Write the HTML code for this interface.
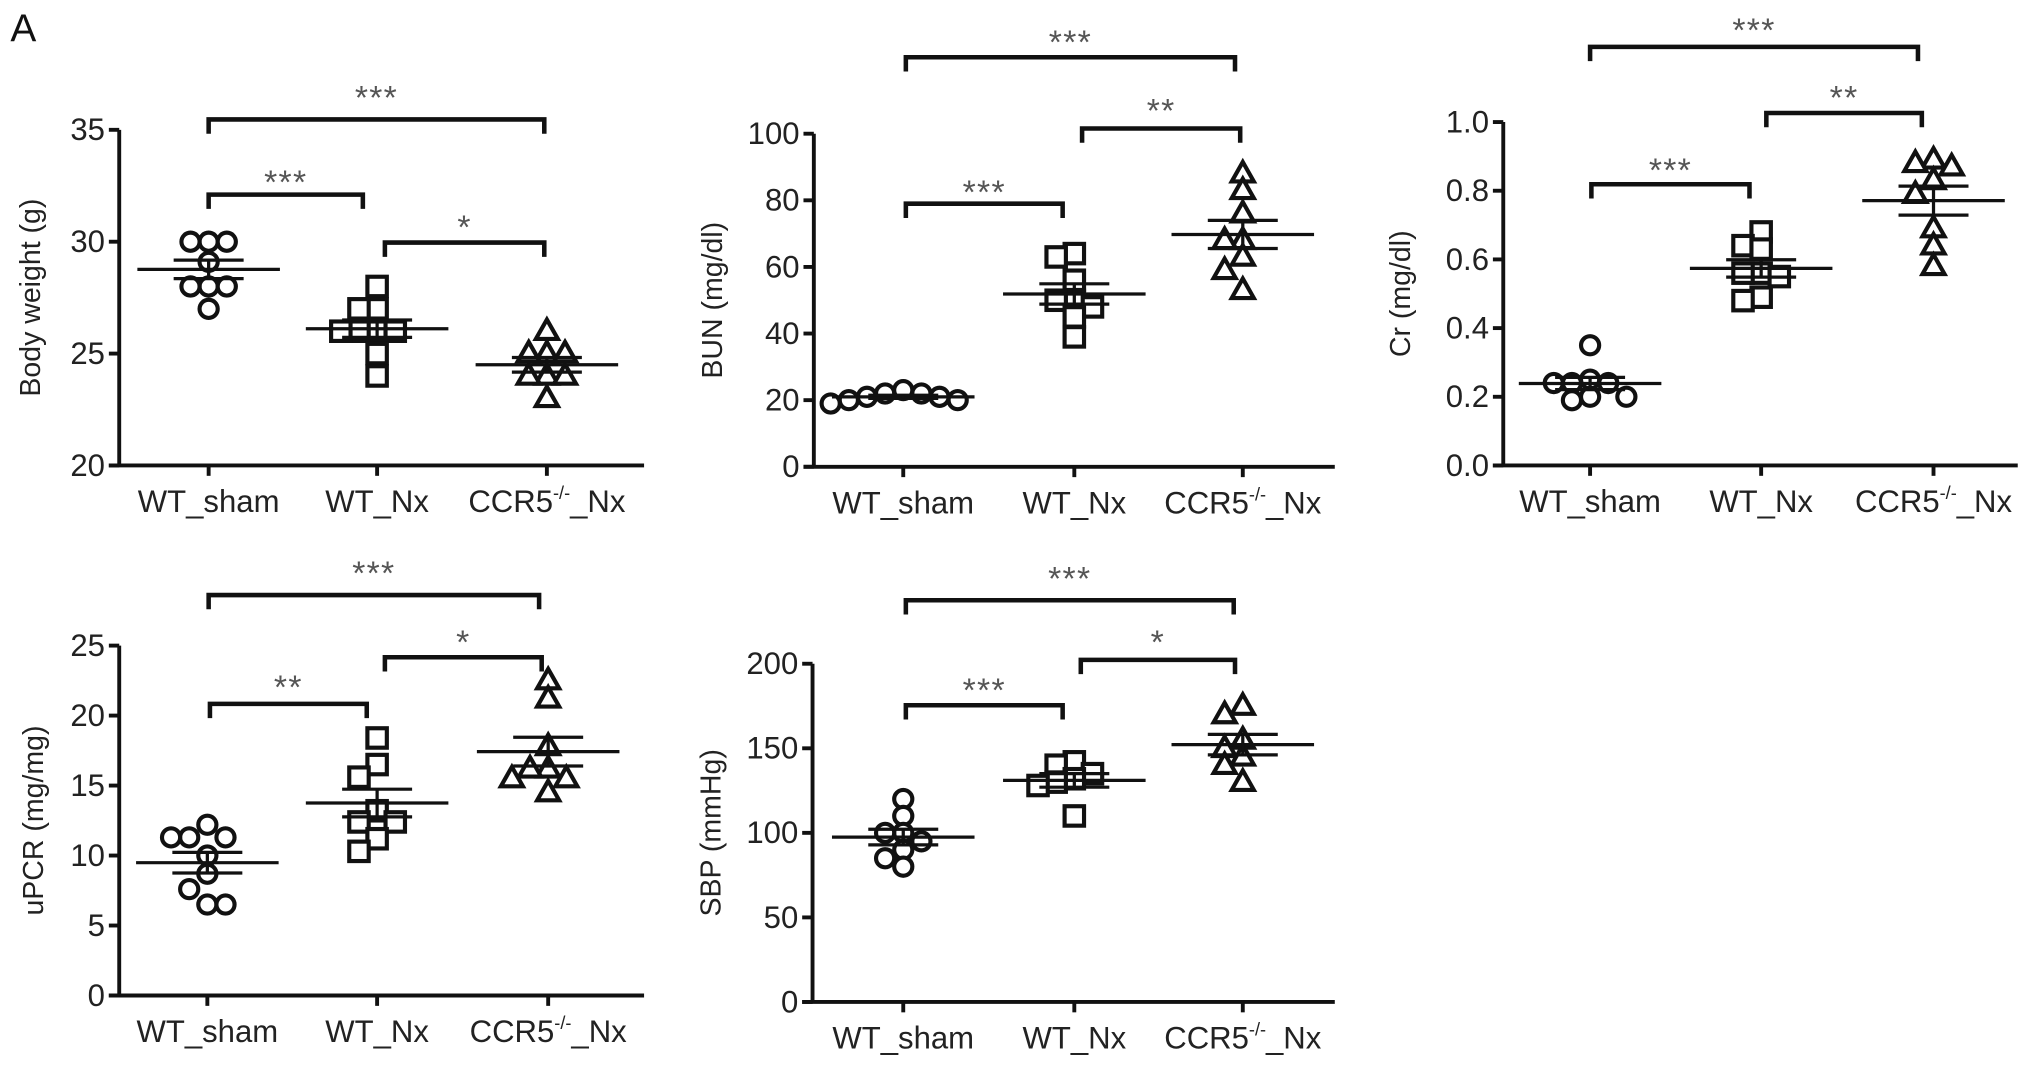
<!DOCTYPE html>
<html><head><meta charset="utf-8">
<style>
html,body{margin:0;padding:0;background:#fff;}
svg{display:block;}
text{font-family:"Liberation Sans",Arial,sans-serif;}
</style></head>
<body>
<svg id="fig" width="2032" height="1067" viewBox="0 0 1568 823" xmlns="http://www.w3.org/2000/svg">
<text x="8" y="32" font-size="30" fill="#111">A</text>
</svg>
<script>
const categories = ["WT_sham","WT_Nx","CCR5-/-_Nx"];
const bwSham = [30,30,30,28,28,28,27,29.1];
const bwNx = [28,27,27,26,26,26,26,25,24];
const bwKo = [26,25,25,25,24,24,24,23];
const bunSham = [23,22,22,21,20,20,19,21];
const bunNx = [64,63,56,50,50,48,45,39];
const bunKo = [88,83,76,68,68,63,59,53];
const crSham = [0.35,0.25,0.24,0.24,0.2,0.19,0.2,0.24];
const crNx = [0.68,0.64,0.63,0.56,0.56,0.55,0.48,0.49];
const crKo = [0.89,0.88,0.87,0.83,0.79,0.69,0.64,0.58];
const upcrSham = [12.2,11.3,11.3,11.3,10,8.7,7.6,6.5,6.5];
const upcrNx = [18.4,16.5,15.6,13.2,12.4,12.4,11.2,10.3];
const upcrKo = [22.5,21.2,17.8,16.2,16.2,15.5,15.5,14.5];
const sbpSham = [120,110,100,100,95,90,85,80];
const sbpNx = [142,140,135,132,130,128,110];
const sbpKo = [175,170,155,150,140,130,145];
const bwTicks = [20,25,30,35];
const bunTicks = [0,20,40,60,80,100];
const crTicks = ["0.0","0.2","0.4","0.6","0.8","1.0"];
const upcrTicks = [0,5,10,15,20,25];
const sbpTicks = [0,50,100,150,200];

const svg = document.getElementById('fig');
const NS = "http://www.w3.org/2000/svg";
function mk(tag, attrs, parent){
  const e = document.createElementNS(NS, tag);
  for (const k in attrs) e.setAttribute(k, attrs[k]);
  (parent||svg).appendChild(e);
  return e;
}

const panels = [
  {name:"body-weight", title:"Body weight (g)", tx:31, ax:92, top:100, bot:359, right:497, xs:[161,291,422], min:20, max:35, ticks:bwTicks, groups:[bwSham,bwNx,bwKo],
   br:[[161,420,92,70,"***"],[161,280,150,135,"***"],[297,420,187,170,"*"]]},
  {name:"bun", title:"BUN (mg/dl)", tx:557, ax:628, top:103, bot:360, right:1030, xs:[697,829,959], min:0, max:100, ticks:bunTicks, groups:[bunSham,bunNx,bunKo],
   br:[[699,953,44,27,"***"],[835,957,99,80,"**"],[699,820,157,143,"***"]]},
  {name:"creatinine", title:"Cr (mg/dl)", tx:1088, ax:1160, top:94, bot:359, right:1557, xs:[1227,1359,1492], min:0, max:1, ticks:crTicks, groups:[crSham,crNx,crKo],
   br:[[1227,1480,36,18,"***"],[1363,1483,87,70,"**"],[1228,1350,142,126,"***"]]},
  {name:"upcr", title:"uPCR (mg/mg)", tx:33, ax:92, top:498, bot:768, right:497, xs:[160,291,423], min:0, max:25, ticks:upcrTicks, groups:[upcrSham,upcrNx,upcrKo],
   br:[[161,416,459,437,"***"],[297,418,507,490,"*"],[162,283,543,525,"**"]]},
  {name:"sbp", title:"SBP (mmHg)", tx:556, ax:627, top:512, bot:773, right:1030, xs:[697,829,959], min:0, max:200, ticks:sbpTicks, groups:[sbpSham,sbpNx,sbpKo],
   br:[[699,952,463,441,"***"],[834,953,509,490,"*"],[699,820,544,527,"***"]]}
];

function marker(g, shape, x, y){
  let e;
  if (shape===0) e = mk('circle',{cx:x,cy:y,r:7,fill:"#fff",stroke:"#111","stroke-width":3.2},g);
  else if (shape===1) e = mk('rect',{x:x-7.5,y:y-7.5,width:15,height:15,fill:"#fff",stroke:"#111","stroke-width":3.2},g);
  else e = mk('polygon',{points:`${x},${y-9} ${x+8.5},${y+6} ${x-8.5},${y+6}`,fill:"#fff",stroke:"#111","stroke-width":3.2,"stroke-linejoin":"miter"},g);
  return e;
}

panels.forEach(p=>{
  const g = mk('g',{});
  
  
  const nums = p.ticks.map(Number);
  const yS = v => p.bot - (v - p.min)/(p.max - p.min)*(p.bot - p.top);
  const ya = mk('line',{x1:p.ax,y1:p.top,x2:p.ax,y2:p.bot,stroke:"#111","stroke-width":3},g);
  
  
  const xa = mk('line',{x1:p.ax-8,y1:p.bot,x2:p.right,y2:p.bot,stroke:"#111","stroke-width":3},g);
  
  
  p.ticks.forEach((t,i)=>{
    const y = yS(nums[i]);
    mk('line',{x1:p.ax-8,y1:y,x2:p.ax,y2:y,stroke:"#111","stroke-width":3},g);
    const tx = mk('text',{x:p.ax-11,y:y+8,"font-size":24,"text-anchor":"end",fill:"#222"},g);
    tx.textContent = String(t);
    
    
  });
  const tt = mk('text',{x:0,y:0,"font-size":22,"text-anchor":"middle",fill:"#222",transform:`translate(${p.tx},${(p.top+p.bot)/2}) rotate(-90)`},g);
  tt.textContent = p.title;
  
  
  categories.forEach((c,i)=>{
    const x = p.xs[i];
    mk('line',{x1:x,y1:p.bot,x2:x,y2:p.bot+8,stroke:"#111","stroke-width":3},g);
    const tx = mk('text',{x:x,y:p.bot+36,"font-size":24,"text-anchor":"middle",fill:"#222"},g);
    if (i===2){
      tx.innerHTML = 'CCR5<tspan font-size="14" dy="-10">-/-</tspan><tspan dy="10">_Nx</tspan>';
    } else tx.textContent = c;
    
    
  });
  p.groups.forEach((vals,gi)=>{
    const cx = p.xs[gi];
    const placed = [];
    const order = vals.map((v,i)=>i).sort((a,b)=>vals[b]-vals[a]);
    order.forEach(i=>{
      const y = yS(vals[i]);
      const cands=[0,-14,14,-28,28,-42,42,-56,56];
      let off=0;
      for (const o of cands){
        if (placed.every(q=>Math.hypot(q[0]-o,q[1]-y)>=12)){off=o;break;}
      }
      placed.push([off,y]);
      const m = marker(g, gi, cx+off, y);
      
      
    });
    const n = vals.length;
    const mean = vals.reduce((a,b)=>a+b,0)/n;
    const sd = Math.sqrt(vals.reduce((a,b)=>a+(b-mean)*(b-mean),0)/(n-1));
    const sem = sd/Math.sqrt(n);
    const ml = mk('line',{x1:cx-55,y1:yS(mean),x2:cx+55,y2:yS(mean),stroke:"#111","stroke-width":2.5},g);
    
    
    [mean+sem, mean-sem].forEach(v=>{
      const el = mk('line',{x1:cx-27,y1:yS(v),x2:cx+27,y2:yS(v),stroke:"#111","stroke-width":2.5},g);
      
      
    });
    const ev = mk('line',{x1:cx,y1:yS(mean+sem),x2:cx,y2:yS(mean-sem),stroke:"#111","stroke-width":2.5},g);
    
    
  });
  p.br.forEach(b=>{
    const [x1,x2,y,ty,s] = b;
    const pl = mk('polyline',{points:`${x1},${y+11} ${x1},${y} ${x2},${y} ${x2},${y+11}`,fill:"none",stroke:"#111","stroke-width":3.5},g);
    
    
    const st = mk('text',{x:(x1+x2)/2,y:ty+14,"font-size":26,"text-anchor":"middle",fill:"#555","letter-spacing":"1"},g);
    st.textContent = s;
    
    
  });
});
</script>
</body></html>
